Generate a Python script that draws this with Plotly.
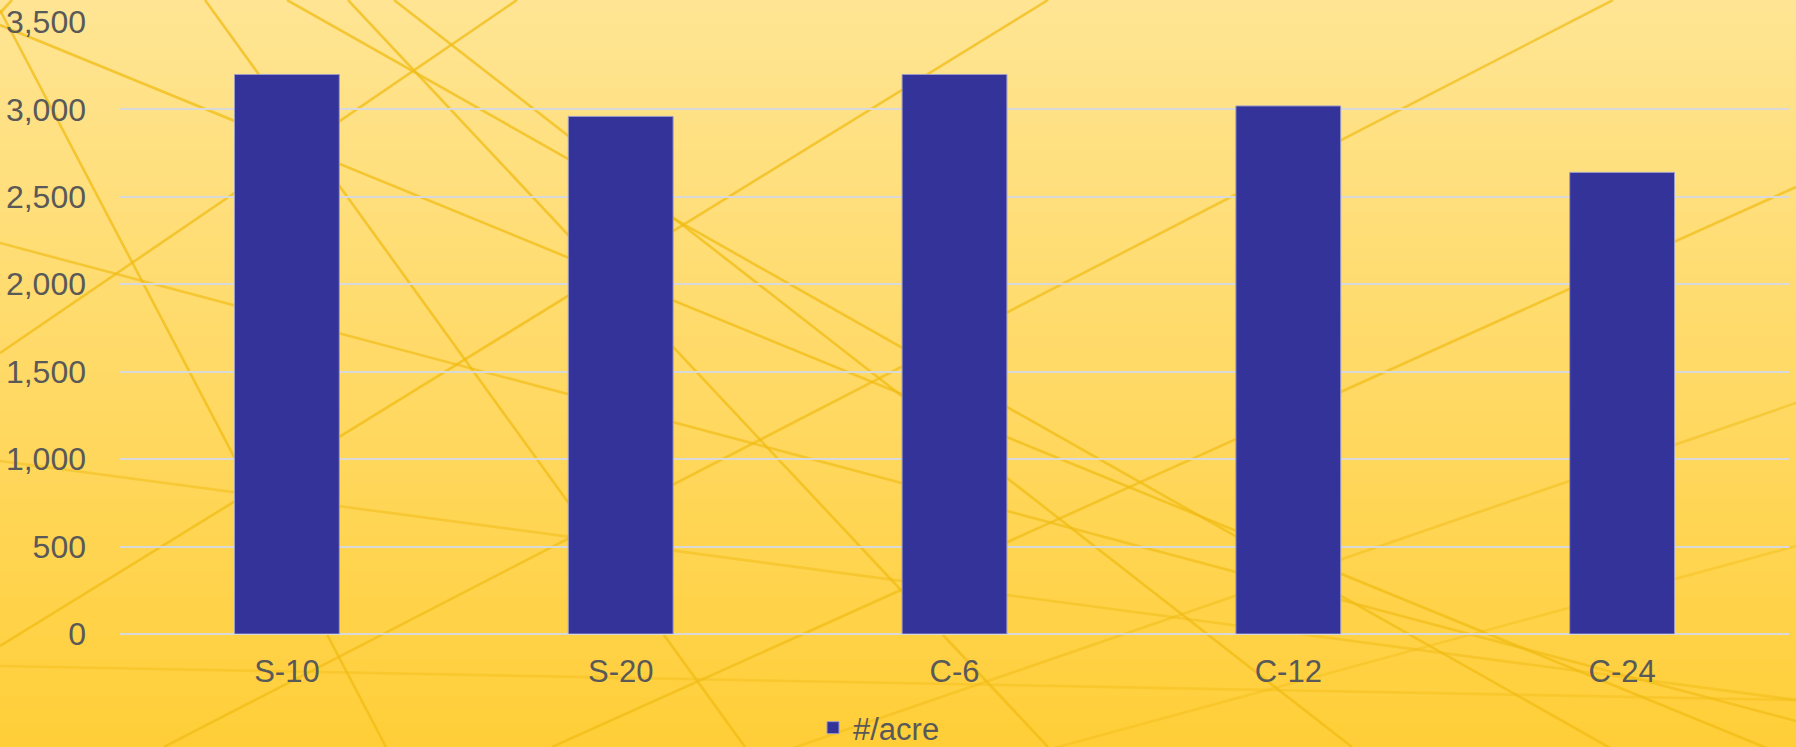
import plotly.graph_objects as go

# Plant density by treatment
categories = ["S-10", "S-20", "C-6", "C-12", "C-24"]
per_acre = [3200, 2960, 3200, 3020, 2640]
series_name = "#/acre"
y_ticks = [0, 500, 1000, 1500, 2000, 2500, 3000, 3500]
y_tick_text = ["0", "500", "1,000", "1,500", "2,000", "2,500", "3,000", "3,500"]

W, H = 1796, 747
ML, MR, MT, MB = 120, 7, 22, 113
PW, PH = W - ML - MR, H - MT - MB

FONT = "Liberation Sans, Arial, sans-serif"
TEXT = "#595959"


def px_x(x):
    return (x - ML) / PW


def px_y(y):
    return (H - MB - y) / PH


shapes = []

# vertical gold gradient behind the chart
top_rgb = (255, 229, 148)
bot_rgb = (255, 206, 56)
bands = 60
for i in range(bands):
    t = (i + 0.5) / bands
    c = tuple(round(a + (b - a) * t) for a, b in zip(top_rgb, bot_rgb))
    y0 = H * i / bands
    y1 = H * (i + 1) / bands + 1
    shapes.append(dict(
        type="rect", xref="paper", yref="paper", layer="below",
        x0=px_x(-2), x1=px_x(W + 2), y0=px_y(y0), y1=px_y(y1),
        fillcolor="rgb(%d,%d,%d)" % c, line=dict(width=0),
    ))

# decorative straws across the backdrop: (x0, y0, x1, y1, opacity)
straws = [
    (0, 10, 386, 747, 0.75),
    (0, 25, 1796, 760, 0.75),
    (205, 0, 745, 747, 0.75),
    (287, 0, 1796, 853, 0.75),
    (348, 0, 1048, 747, 0.75),
    (394, 0, 1352, 747, 0.75),
    (517, 0, 0, 353, 0.75),
    (1048, 0, 0, 646, 0.75),
    (1613, 0, 164, 747, 0.7),
    (1796, 187, 552, 747, 0.7),
    (0, 461, 1796, 700, 0.5),
    (0, 243, 1796, 721, 0.65),
    (0, 666, 1796, 700, 0.4),
    (1796, 403, 700, 780, 0.5),
    (1796, 546, 900, 790, 0.4),
    (0, 13, 12, 0, 0.75),
]
for x0, y0, x1, y1, a in straws:
    shapes.append(dict(
        type="line", xref="paper", yref="paper", layer="below",
        x0=px_x(x0), y0=px_y(y0), x1=px_x(x1), y1=px_y(y1),
        line=dict(color="rgba(240,188,20,%.2f)" % a, width=2.6),
    ))

fig = go.Figure(go.Bar(
    x=categories,
    y=per_acre,
    name=series_name,
    marker=dict(color="#333399", line=dict(color="#9C9CC8", width=1)),
    showlegend=True,
))

fig.update_layout(
    width=W, height=H, autosize=False,
    margin=dict(l=ML, r=MR, t=MT, b=MB, pad=0, autoexpand=False),
    paper_bgcolor="rgb(255,206,56)",
    plot_bgcolor="rgba(0,0,0,0)",
    font=dict(family=FONT, size=31, color=TEXT),
    bargap=0.686,
    shapes=shapes,
    showlegend=True,
    legend=dict(
        orientation="h", x=px_x(813), xanchor="left",
        y=px_y(728), yanchor="middle",
        bgcolor="rgba(0,0,0,0)", font=dict(size=31, color=TEXT),
        itemwidth=30, tracegroupgap=0,
    ),
    xaxis=dict(
        showgrid=False, showline=False, zeroline=False, ticks="",
        tickfont=dict(size=31, color=TEXT), ticklabelstandoff=16,
    ),
    yaxis=dict(
        range=[0, 3500], tickvals=y_ticks, ticktext=y_tick_text,
        showgrid=True, gridcolor="#D9D9D9", gridwidth=1.6,
        zeroline=True, zerolinecolor="#D9D9D9", zerolinewidth=1.6,
        showline=False, ticks="", ticklabelstandoff=33,
        tickfont=dict(size=32, color=TEXT),
    ),
)

fig.write_html("out.html")
